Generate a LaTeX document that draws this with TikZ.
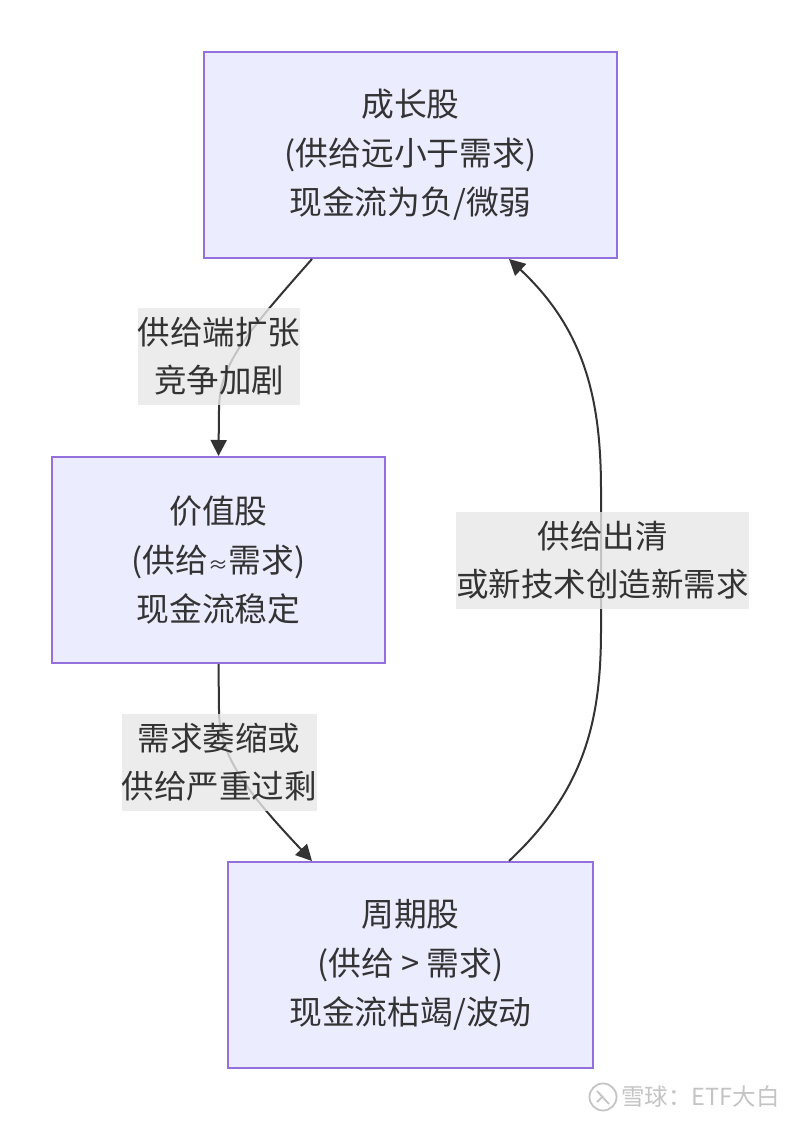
\documentclass[tikz,border=0pt]{standalone}
\usepackage{fontspec}
\setmainfont{Noto Sans CJK SC}
\usetikzlibrary{arrows.meta,calc}
\definecolor{boxfill}{HTML}{ECECFF}
\definecolor{boxline}{HTML}{9370DB}
\definecolor{txt}{HTML}{333333}
\definecolor{lblfill}{HTML}{E8E8E8}
\definecolor{wm}{HTML}{C4C4C4}
\tikzset{
  stockbox/.style={draw=boxline, fill=boxfill, line width=2pt, minimum height=206pt,
    inner sep=0pt, align=center, text=txt, font=\fontsize{32.8}{49}\selectfont},
  edgelabel/.style={fill=lblfill, fill opacity=0.8, text opacity=1, inner sep=0pt,
    minimum height=97pt, align=center, text=txt, font=\fontsize{32.5}{48}\selectfont},
  flow/.style={draw=txt, line width=2pt, -{Triangle[length=16pt,width=16pt]}},
}
\begin{document}
\begin{tikzpicture}[x=1pt,y=-1pt]
\useasboundingbox[fill=white] (0,0) rectangle (800,1121);
\node[stockbox, minimum width=413pt] (grow) at (410.5,155) {成长股\\(供给远小于需求)\\现金流为负/微弱};
\node[stockbox, minimum width=333pt] (value) at (218.5,560) {价值股\\(供给{\fontsize{20}{20}\selectfont ≈}需求)\\现金流稳定};
\node[stockbox, minimum width=365pt] (cycle) at (410.5,965) {周期股\\(供给 > 需求)\\现金流枯竭/波动};

\coordinate (g1) at ([xshift=-98.5pt]grow.south);
\coordinate (g2) at ([xshift=98.5pt]grow.south);
\coordinate (c1) at ([xshift=-98.5pt]cycle.north);
\coordinate (c2) at ([xshift=98.5pt]cycle.north);

\draw[flow] (g1) .. controls (245,335) and (219,365) .. (219,410) -- (value.north);
\draw[flow] (value.south) -- (219,710) .. controls (219,755) and (245,790) .. (c1);
\draw[flow] (c2) .. controls (585,790) and (601,720) .. (601,630) -- (601,490) .. controls (601,400) and (585,330) .. (g2);

\node[edgelabel, minimum width=162pt] (l1) at (219,356.5) {供给端扩张\\竞争加剧};
\node[edgelabel, minimum width=289pt] (l2) at (602.5,560.5) {供给出清\\或新技术创造新需求};
\node[edgelabel, minimum width=194pt] (l3) at (219,762.5) {需求萎缩或\\供给严重过剩};

\node[circle, draw=wm, line width=1.8pt, minimum size=27pt, inner sep=0pt] (logo) at (603,1097) {};
\draw[wm, line width=1.8pt] ([shift={(-6,-6)}]logo.center) .. controls (603,1097) .. ([shift={(6,7)}]logo.center);
\draw[wm, line width=1.8pt] ([shift={(-6,5)}]logo.center) -- ([shift={(0,-1)}]logo.center);
\node[anchor=west, text=wm, inner sep=0pt, font=\fontsize{23.5}{23.5}\selectfont] (wmtext) at (621,1097) {雪球：ETF大白};
\end{tikzpicture}
\end{document}
